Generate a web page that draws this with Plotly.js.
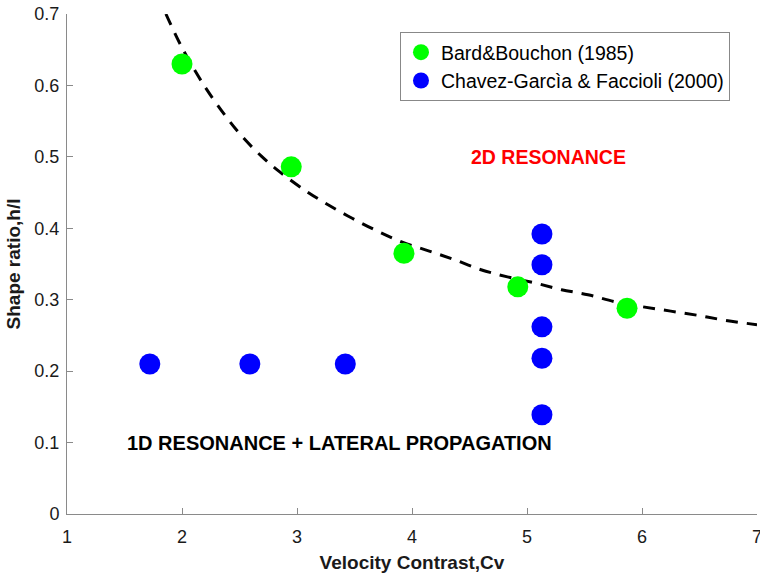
<!DOCTYPE html>
<html>
<head>
<meta charset="utf-8">
<script src="https://cdn.plot.ly/plotly-3.0.1.min.js"></script>
<style>
  html, body { margin: 0; padding: 0; background: #ffffff; }
  #chart { width: 760px; height: 573px; }
</style>
</head>
<body>
<div id="chart"></div>
<script>
// Bard & Bouchon (1985): velocity contrast vs. shape ratio
const bardCv    = [2.00, 2.95, 3.93, 4.92, 5.87];
const bardRatio = [0.630, 0.486, 0.365, 0.318, 0.288];

// Chavez-Garcia & Faccioli (2000)
const chavezCv    = [1.72, 2.59, 3.42, 5.13, 5.13, 5.13, 5.13, 5.13];
const chavezRatio = [0.210, 0.210, 0.210, 0.392, 0.349, 0.262, 0.218, 0.139];

// Boundary curve between 1D and 2D resonance
const curveCv    = [1.86, 2.00, 2.18, 2.37, 2.52, 2.69, 2.85, 3.08, 3.27, 3.48, 3.70, 3.91, 4.15, 4.37, 4.60, 4.83, 5.08, 5.30, 5.53, 5.77, 6.01, 6.25, 6.49, 6.73, 7.00];
const curveRatio = [0.700, 0.653, 0.603, 0.559, 0.529, 0.501, 0.479, 0.452, 0.433, 0.414, 0.396, 0.381, 0.368, 0.356, 0.342, 0.332, 0.323, 0.314, 0.307, 0.297, 0.290, 0.284, 0.278, 0.271, 0.265];

// Axis ticks
const xTicks = [1, 2, 3, 4, 5, 6, 7];
const yTicks = [0, 0.1, 0.2, 0.3, 0.4, 0.5, 0.6, 0.7];
const yTickText = ['0', '0.1', '0.2', '0.3', '0.4', '0.5', '0.6', '0.7'];

const FONT = 'Liberation Sans, Arial, Helvetica, sans-serif';
const AXIS_GREY = '#8a8a8a';

const traces = [
  {
    x: curveCv, y: curveRatio,
    mode: 'lines', type: 'scatter',
    line: { color: '#000000', width: 3, dash: '12px,9px', shape: 'spline', smoothing: 1 },
    showlegend: false, hoverinfo: 'skip'
  },
  {
    x: bardCv, y: bardRatio,
    mode: 'markers', type: 'scatter',
    name: 'Bard&Bouchon (1985)',
    marker: { color: '#00ff00', size: 21 }
  },
  {
    x: chavezCv, y: chavezRatio,
    mode: 'markers', type: 'scatter',
    name: 'Chavez-Garcìa & Faccioli (2000)',
    marker: { color: '#0000ff', size: 21 }
  }
];

const layout = {
  width: 760, height: 573,
  margin: { l: 67, r: 3, t: 14, b: 59 },
  paper_bgcolor: '#ffffff', plot_bgcolor: '#ffffff',
  font: { family: FONT, size: 18, color: '#1a1a1a' },
  showlegend: true,
  legend: {
    x: 0.4826, y: 0.964, xanchor: 'left', yanchor: 'top',
    bgcolor: '#ffffff', bordercolor: '#888888', borderwidth: 1,
    font: { family: FONT, size: 19.5, color: '#000000' },
    itemsizing: 'trace', tracegroupgap: 0
  },
  xaxis: {
    range: [1, 7], tickvals: xTicks, ticktext: xTicks.map(String),
    showgrid: false, zeroline: false,
    showline: true, linecolor: AXIS_GREY, linewidth: 1,
    ticks: 'inside', ticklen: 6, tickcolor: AXIS_GREY,
    tickfont: { family: FONT, size: 18, color: '#1a1a1a' },
    ticklabelstandoff: 6, ticklabeloverflow: 'allow',
    title: { text: '<b>Velocity Contrast,Cv</b>', font: { family: FONT, size: 19, color: '#1a1a1a' }, standoff: 10 },
    automargin: false, fixedrange: true
  },
  yaxis: {
    range: [0, 0.7], tickvals: yTicks, ticktext: yTickText,
    showgrid: false, zeroline: false,
    showline: true, linecolor: AXIS_GREY, linewidth: 1,
    ticks: 'inside', ticklen: 6, tickcolor: AXIS_GREY,
    tickfont: { family: FONT, size: 18, color: '#1a1a1a' },
    ticklabelstandoff: 3, ticklabeloverflow: 'allow',
    title: { text: '<b>Shape ratio,h/l</b>', font: { family: FONT, size: 19, color: '#1a1a1a' }, standoff: 8 },
    automargin: false, fixedrange: true
  },
  annotations: [
    {
      x: 5.19, y: 0.50, xref: 'x', yref: 'y', showarrow: false,
      text: '<b>2D RESONANCE</b>',
      font: { family: FONT, size: 19.5, color: '#ff0000' }
    },
    {
      x: 3.37, y: 0.10, xref: 'x', yref: 'y', showarrow: false,
      text: '<b>1D RESONANCE + LATERAL PROPAGATION</b>',
      font: { family: FONT, size: 20, color: '#000000' }
    }
  ]
};

Plotly.newPlot('chart', traces, layout, { displayModeBar: false, staticPlot: true });
</script>
</body>
</html>
